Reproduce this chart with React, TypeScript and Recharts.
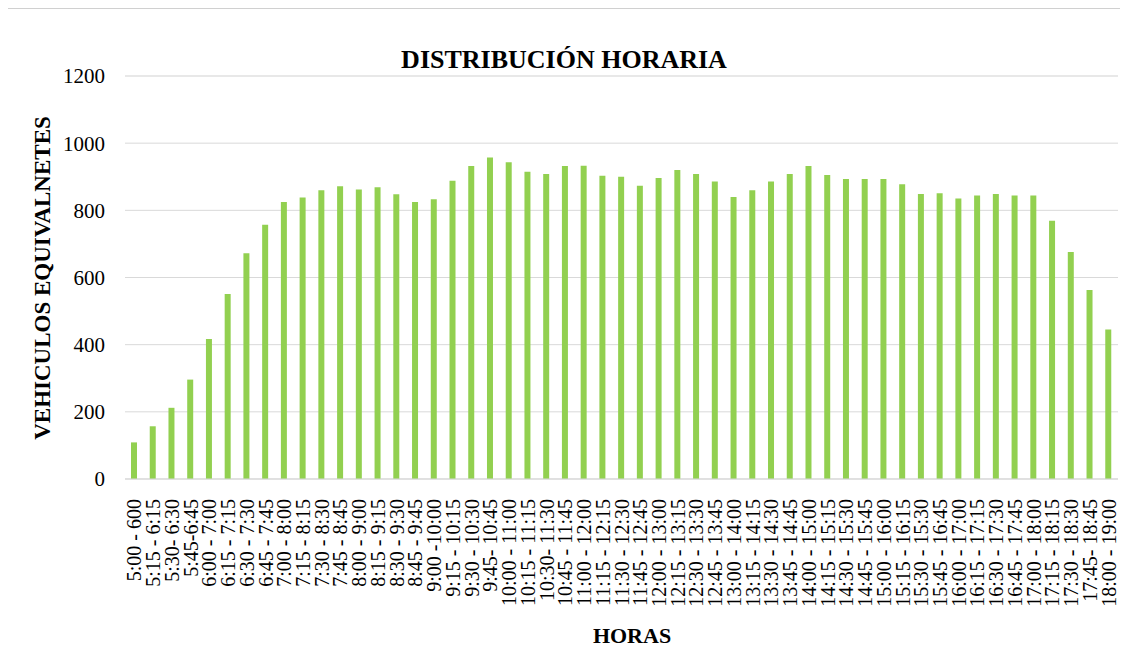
import React from 'react';
import { BarChart, Bar, XAxis, YAxis, CartesianGrid } from 'recharts';

const HORAS = [
  '5:00 - 600', '5:15 - 6:15', '5:30- 6:30', '5:45-6:45', '6:00 - 7:00', '6:15 - 7:15',
  '6:30 - 7:30', '6:45 - 7:45', '7:00 - 8:00', '7:15 - 8:15', '7:30 - 8:30', '7:45 - 8:45',
  '8:00 - 9:00', '8:15 - 9:15', '8:30 - 9:30', '8:45 - 9:45', '9:00 -10:00', '9:15 - 10:15',
  '9:30 - 10:30', '9:45- 10:45', '10:00 - 11:00', '10:15 - 11:15', '10:30- 11:30', '10:45 - 11:45',
  '11:00 - 12:00', '11:15 - 12:15', '11:30 - 12:30', '11:45 - 12:45', '12:00 - 13:00', '12:15 - 13:15',
  '12:30 - 13:30', '12:45 - 13:45', '13:00 - 14:00', '13:15 - 14:15', '13:30 - 14:30', '13:45 - 14:45',
  '14:00 - 15:00', '14:15 - 15:15', '14:30 - 15:30', '14:45 - 15:45', '15:00 - 16:00', '15:15 - 16:15',
  '15:30 - 15:30', '15:45 - 16:45', '16:00 - 17:00', '16:15 - 17:15', '16:30 - 17:30', '16:45 - 17:45',
  '17:00 - 18:00', '17:15 - 18:15', '17:30 - 18:30', '17:45- 18:45', '18:00 - 19:00',
];

const VEHICULOS = [
  109, 157, 212, 296, 417, 551, 672, 757, 825, 838, 860, 872, 862, 869, 848, 825, 833, 888,
  932, 957, 943, 915, 908, 932, 933, 903, 900, 873, 896, 920, 908, 886, 840, 860, 886, 908,
  932, 905, 893, 893, 893, 878, 849, 851, 835, 844, 849, 844, 844, 769, 676, 563, 445,
];

const Y_TICKS = [0, 200, 400, 600, 800, 1000, 1200];
const MINOR_TICKS = [
  0, 40, 80, 120, 160, 200, 240, 280, 320, 360, 400, 440, 480, 520, 560, 600,
  640, 680, 720, 760, 800, 840, 880, 920, 960, 1000, 1040, 1080, 1120, 1160, 1200,
];

const data = HORAS.map((h, i) => ({ hora: h, valor: VEHICULOS[i] }));

const FONT = '"Liberation Serif", "Times New Roman", serif';

// etiquetas del eje X giradas, leídas de abajo hacia arriba
const XTick = (props: any) => {
  const { x, y, payload } = props;
  return (
    <text
      x={0}
      y={0}
      transform={`translate(${x},${y + 12}) rotate(-90)`}
      textAnchor="end"
      dy="0.35em"
      fontSize={20}
      fontFamily={FONT}
      fill="#000"
    >
      {payload.value}
    </text>
  );
};

export default function App() {
  return (
    <div
      style={{
        position: 'relative',
        width: 1119,
        height: 657,
        borderLeft: '1px solid #d0d0d0',
        borderTop: '1px solid #d0d0d0',
        marginLeft: -1,
      }}
    >
      <BarChart
        width={1119}
        height={657}
        data={data}
        margin={{ top: 67, right: 9, left: 0, bottom: 0 }}
      >
        <YAxis yAxisId="minor" hide domain={[0, 1200]} ticks={MINOR_TICKS} />
        <CartesianGrid yAxisId="minor" vertical={false} stroke="#eeeeee" />
        <CartesianGrid vertical={false} stroke="#d9d9d9" />
        <XAxis
          dataKey="hora"
          interval={0}
          tickLine={false}
          axisLine={{ stroke: '#d9d9d9' }}
          height={187}
          tick={<XTick />}
        />
        <YAxis
          domain={[0, 1200]}
          ticks={Y_TICKS}
          axisLine={false}
          tickLine={false}
          tickSize={0}
          tickMargin={20}
          width={117}
          tick={{ fontSize: 21, fontFamily: FONT, fill: '#000' }}
        />
        <Bar dataKey="valor" fill="#92d050" barSize={6} isAnimationActive={false} />
      </BarChart>
      <svg
        width={1119}
        height={657}
        style={{ position: 'absolute', left: 0, top: 0, pointerEvents: 'none' }}
      >
        <text x={556} y={59} textAnchor="middle" fontSize={26} fontWeight="bold" fontFamily={FONT}>
          DISTRIBUCIÓN HORARIA
        </text>
        <text
          x={0}
          y={0}
          transform="translate(42,269) rotate(-90)"
          textAnchor="middle"
          fontSize={23}
          fontWeight="bold"
          fontFamily={FONT}
        >
          VEHICULOS EQUIVALNETES
        </text>
        <text x={624} y={634} textAnchor="middle" fontSize={22} fontWeight="bold" fontFamily={FONT}>
          HORAS
        </text>
      </svg>
    </div>
  );
}
